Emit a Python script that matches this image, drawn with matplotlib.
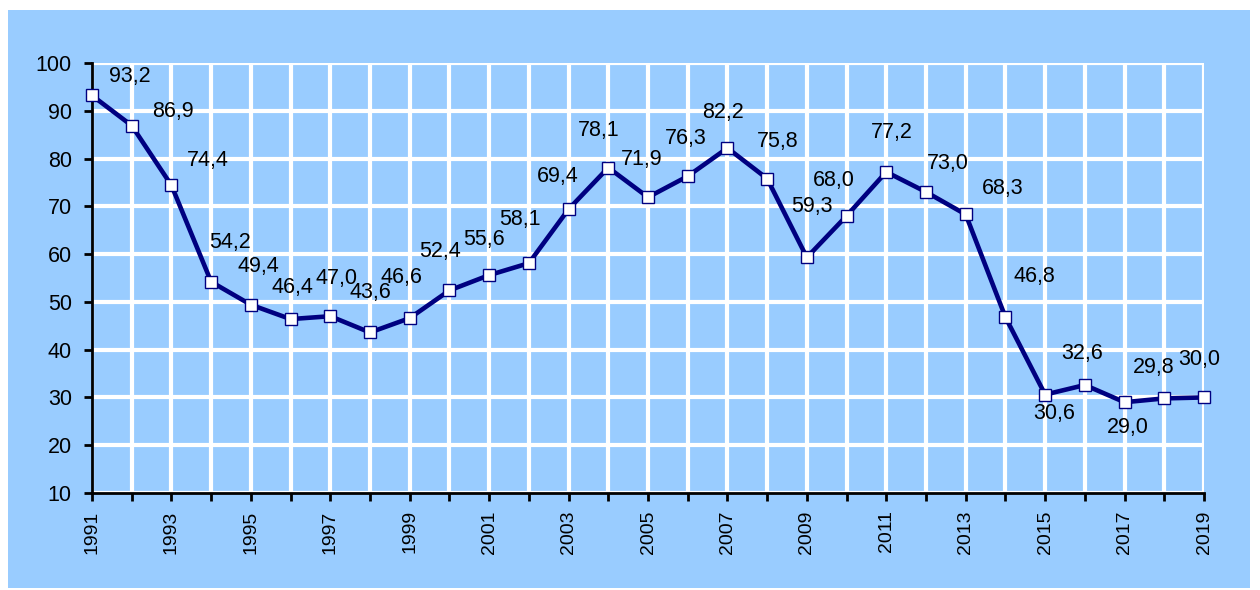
import matplotlib
matplotlib.use("Agg")
import matplotlib.pyplot as plt
from matplotlib.patches import Rectangle

years = list(range(1991, 2020))
values = [93.2, 86.9, 74.4, 54.2, 49.4, 46.4, 47.0, 43.6, 46.6, 52.4, 55.6, 58.1,
          69.4, 78.1, 71.9, 76.3, 82.2, 75.8, 59.3, 68.0, 77.2, 73.0, 68.3, 46.8,
          30.6, 32.6, 29.0, 29.8, 30.0]
xtick_labels = [str(y) if (y - 1991) % 2 == 0 else '' for y in years]
yticks = list(range(10, 101, 10))

# label offsets in pixels (dx, dy up) relative to the point (style only)
offsets = [(38, 19), (41, 14), (36, 25), (19, 39), (8, 38), (2, 32), (6, 38),
           (0, 40), (-8, 41), (-9, 39), (-5, 36), (-9, 44), (-11, 33), (-10, 37),
           (-6, 38), (-2, 38), (-4, 36), (11, 37), (5, 51), (-13, 35), (6, 39),
           (22, 29), (37, 26), (29, 41), (9, -19), (-3, 32), (3, -25),
           (-11, 31), (-5, 38)]

plt.rcParams['font.family'] = ['Liberation Sans', 'DejaVu Sans']
W, H = 1260, 590
fig = plt.figure(figsize=(W / 100, H / 100), dpi=100, facecolor='white')
bg = '#99CCFF'
fig.patches.append(Rectangle((8 / W, 1 - 588 / H), (1250 - 8) / W, (588 - 10) / H,
                             transform=fig.transFigure, facecolor=bg, edgecolor='none', zorder=-10))

ax = fig.add_axes([92 / W, 1 - 493 / H, (1204 - 92) / W, (493 - 63) / H])
ax.set_facecolor(bg)
ax.set_xlim(1991, 2019)
ax.set_ylim(10, 100)
ax.set_xticks(years)
ax.set_xticklabels(xtick_labels, rotation=90, fontsize=14)
ax.set_yticks(yticks)
ax.set_yticklabels([str(v) for v in yticks], fontsize=15.5)
ax.grid(True, color='white', linewidth=3)
ax.set_axisbelow(True)
for s in ['top', 'right']:
    ax.spines[s].set_visible(False)
for s in ['left', 'bottom']:
    ax.spines[s].set_linewidth(2)
    ax.spines[s].set_color('black')
    ax.spines[s].set_zorder(5)
ax.tick_params(direction='out', length=5.5, width=2, colors='black')
ax.tick_params(axis='y', pad=9)
ax.tick_params(axis='x', pad=7)

ax.plot(years, values, color='#000080', linewidth=3.3, marker='s', markersize=8,
        markerfacecolor='white', markeredgecolor='#000080', markeredgewidth=1,
        clip_on=False, zorder=6)

for x, v, (dx, dy) in zip(years, values, offsets):
    ax.annotate(f"{v:.1f}".replace('.', ','), (x, v), xytext=(dx * 0.72, dy * 0.72),
                textcoords='offset points', ha='center', va='center', fontsize=15.5,
                color='black', zorder=7)

fig.savefig('out.png', dpi=100, facecolor='white')
